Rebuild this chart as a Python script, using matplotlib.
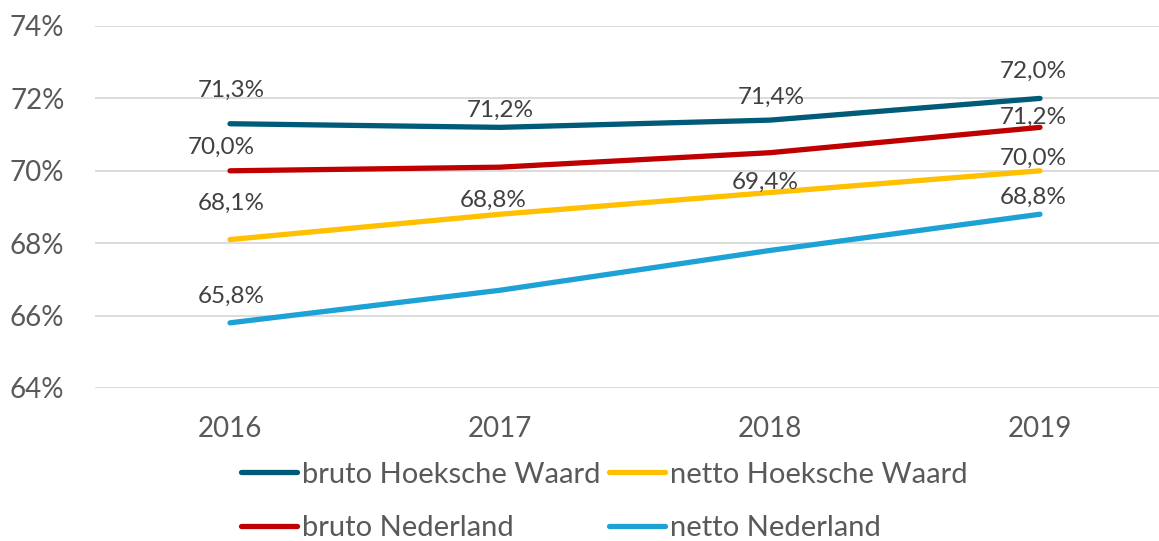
import matplotlib.pyplot as plt

# Data
years = ['2016', '2017', '2018', '2019']
bruto_hw = [71.3, 71.2, 71.4, 72.0]
netto_hw = [68.1, 68.8, 69.4, 70.0]
bruto_nl = [70.0, 70.1, 70.5, 71.2]
netto_nl = [65.8, 66.7, 67.8, 68.8]
yticks = [64, 66, 68, 70, 72, 74]

# label placement (pixel offsets from the point, dx / dy up); None = no label
label_offsets = {
    'bruto Hoeksche Waard': [(1, 33), (0, 17), (1, 23), (-7, 27)],
    'bruto Nederland': [(-9, 23), None, None, (-7, 10)],
    'netto Hoeksche Waard': [(1, 36), (-7, 14), (-5, 10), (-7, 12)],
    'netto Nederland': [(1, 26), None, None, (-7, 17)],
}

plt.rcParams['font.family'] = ['Lato', 'DejaVu Sans']
grey = '#595959'

fig = plt.figure(figsize=(11.59, 5.41), dpi=100)
ax = fig.add_axes([95 / 1159, (541 - 388) / 541, 1080 / 1159, 362 / 541])

x = range(len(years))
series = [
    ('bruto Hoeksche Waard', bruto_hw, '#005B78'),
    ('bruto Nederland', bruto_nl, '#C00000'),
    ('netto Hoeksche Waard', netto_hw, '#FFC000'),
    ('netto Nederland', netto_nl, '#1EA2D5'),
]
for name, vals, col in series:
    ax.plot(x, vals, color=col, lw=3.8, solid_capstyle='round', label=name, zorder=3)
    for i, off in enumerate(label_offsets[name]):
        if off is None:
            continue
        ax.annotate(f'{vals[i]:.1f}%'.replace('.', ','), (i, vals[i]),
                    xytext=(off[0] * 0.72, off[1] * 0.72),
                    textcoords='offset points', ha='center', va='center',
                    fontsize=17.5, color='#404040', zorder=4)

ax.set_xlim(-0.5, 3.5)
ax.set_ylim(64, 74)
ax.set_yticks(yticks)
ax.set_yticklabels([f'{v}%' for v in yticks])
ax.set_xticks(list(x))
ax.set_xticklabels(years)
ax.grid(axis='y', color='#D9D9D9', lw=1.3)
ax.set_axisbelow(True)
for s in ax.spines.values():
    s.set_visible(False)
ax.tick_params(length=0, labelsize=20, labelcolor=grey)
ax.tick_params(axis='y', pad=22)
ax.tick_params(axis='x', pad=20)

handles, labels = ax.get_legend_handles_labels()
fig.legend(handles, labels, ncol=2, loc='center left', bbox_to_anchor=(241 / 1159, 1 - 501.5 / 541),
           frameon=False, fontsize=21, labelcolor=grey, handlelength=1.93, handletextpad=0.17,
           columnspacing=0.28, labelspacing=0.95, borderpad=0, borderaxespad=0)

plt.savefig('out.png', dpi=100, facecolor='white')
